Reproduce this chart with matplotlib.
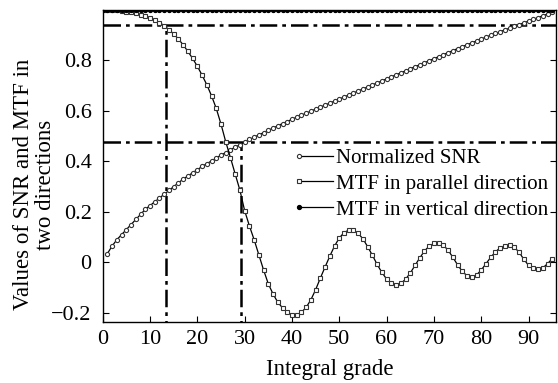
"""
SNR and MTF versus integral grade
"""
import matplotlib
matplotlib.use('Agg')
import matplotlib.pyplot as plt

plt.rcParams['font.family'] = ['Liberation Serif', 'DejaVu Serif']

# Integral grade (x values)
grade = list(range(0, 96))
grade_snr = list(range(1, 96))

# Normalized SNR
snr = [0.035, 0.065, 0.090, 0.110, 0.130, 0.150, 0.170, 0.190, 0.210, 0.225,
       0.240, 0.255, 0.270, 0.285, 0.300, 0.315, 0.330, 0.342, 0.355, 0.367,
       0.380, 0.391, 0.402, 0.413, 0.425, 0.435, 0.446, 0.456, 0.466, 0.477,
       0.487, 0.496, 0.505, 0.514, 0.523, 0.532, 0.541, 0.550, 0.558, 0.567,
       0.575, 0.583, 0.591, 0.599, 0.607, 0.615, 0.623, 0.631, 0.639, 0.647,
       0.655, 0.663, 0.671, 0.679, 0.687, 0.695, 0.703, 0.711, 0.719, 0.727,
       0.735, 0.743, 0.751, 0.759, 0.767, 0.775, 0.783, 0.791, 0.799, 0.807,
       0.815, 0.823, 0.831, 0.839, 0.847, 0.855, 0.862, 0.870, 0.877, 0.885,
       0.892, 0.900, 0.907, 0.914, 0.921, 0.928, 0.935, 0.942, 0.949, 0.956,
       0.963, 0.970, 0.977, 0.984, 0.990]

# MTF in parallel direction
mtf_par = [1.000, 1.000, 0.999, 0.998, 0.996, 0.993, 0.990, 0.986, 0.981, 0.975,
           0.968, 0.960, 0.950, 0.938, 0.922, 0.905, 0.885, 0.862, 0.836, 0.808,
           0.777, 0.742, 0.704, 0.660, 0.610, 0.548, 0.478, 0.415, 0.350, 0.286,
           0.205, 0.145, 0.090, 0.030, -0.030, -0.085, -0.125, -0.158, -0.180, -0.197,
           -0.207, -0.208, -0.198, -0.178, -0.148, -0.108, -0.062, -0.018, 0.025, 0.065,
           0.097, 0.118, 0.128, 0.127, 0.115, 0.093, 0.062, 0.028, -0.008, -0.040,
           -0.066, -0.082, -0.088, -0.083, -0.067, -0.042, -0.012, 0.018, 0.045, 0.065,
           0.075, 0.077, 0.068, 0.048, 0.020, -0.010, -0.036, -0.053, -0.058, -0.050,
           -0.030, -0.005, 0.020, 0.042, 0.058, 0.066, 0.068, 0.060, 0.040, 0.012,
           -0.012, -0.024, -0.028, -0.022, -0.005, 0.015]

# MTF in vertical direction (stays at 1)
mtf_ver = [1.0] * 96

# Reference lines (dash-dot)
ref_x = [13.4, 29.2]
ref_y = [0.94, 0.475]

xticks = [0, 10, 20, 30, 40, 50, 60, 70, 80, 90]
yticks = [-0.2, 0, 0.2, 0.4, 0.6, 0.8]
ytick_labels = ['\u22120.2', '0', '0.2', '0.4', '0.6', '0.8']

fig = plt.figure(figsize=(5.58, 3.83), dpi=100)
ax = fig.add_axes([0.184, 0.160, 0.8125, 0.814])

dashdot = (0, (7, 2, 1.5, 2))
for xv, yv in zip(ref_x, ref_y):
    ax.plot([xv, xv], [-0.3, yv], color='black', lw=1.8, linestyle=dashdot, zorder=1)
    ax.axhline(yv, color='black', lw=1.8, linestyle=dashdot, zorder=1)

ax.plot(grade_snr, snr, color='black', lw=0.9, marker='o', markersize=3.0,
        markerfacecolor='white', markeredgecolor='#333333', markeredgewidth=0.8,
        label='Normalized SNR', zorder=3)
ax.plot(grade, mtf_par, color='black', lw=0.9, marker='s', markersize=3.4,
        markerfacecolor='white', markeredgecolor='#333333', markeredgewidth=0.8,
        label='MTF in parallel direction', zorder=3)
ax.plot(grade, mtf_ver, color='black', lw=0.9, marker='o', markersize=2.8,
        markerfacecolor='black', markeredgecolor='black',
        label='MTF in vertical direction', zorder=3)

ax.set_xlim(0, 95.8)
ax.set_ylim(-0.235, 1.0)
ax.set_xticks(xticks)
ax.set_yticks(yticks)
ax.set_yticklabels(ytick_labels)
ax.tick_params(direction='in', length=4, labelsize=16, right=True, top=False)
ax.tick_params(axis='x', pad=6)
ax.tick_params(axis='y', pad=8)
for s in ax.spines.values():
    s.set_linewidth(1.0)

ax.set_xlabel('Integral grade', fontsize=16.5, labelpad=7.5)
ax.set_ylabel('Values of SNR and MTF in\ntwo directions', fontsize=16.5,
              linespacing=1.05)
ax.yaxis.set_label_coords(-0.103, 0.44)

leg = ax.legend(loc='center left', bbox_to_anchor=(0.434, 0.442), frameon=False,
                fontsize=15, handlelength=1.6, handletextpad=0.15, labelspacing=0.3,
                numpoints=1, borderpad=0, borderaxespad=0)
for line in leg.get_lines():
    line.set_markevery([0])

plt.savefig('out.png', dpi=100)
plt.close()
